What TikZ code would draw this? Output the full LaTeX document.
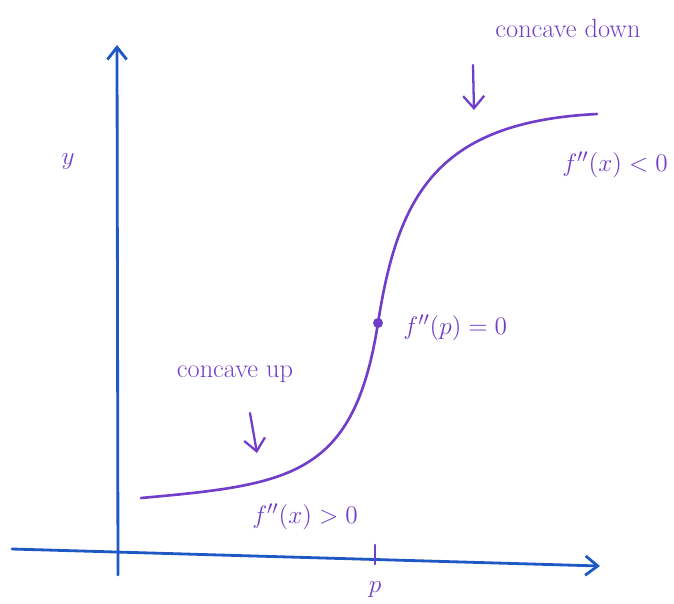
\documentclass[tikz,border=0pt]{standalone}
\usetikzlibrary{arrows.meta}
\definecolor{pen}{RGB}{112,62,200}
\definecolor{axisblue}{RGB}{30,88,196}
\begin{document}
\begin{tikzpicture}[x=0.02cm,y=-0.02cm,
  axisline/.style={draw=axisblue,line width=1.6pt,line cap=round,-{Straight Barb[length=7pt,width=11pt,line width=1.6pt]}},
  curveline/.style={draw=pen,line width=1.5pt,line cap=round},
  note/.style={text=pen,font=\fontsize{15}{17}\selectfont,inner sep=0pt},
  pointer/.style={draw=pen,line width=1.3pt,line cap=round,-{Straight Barb[length=7pt,width=12pt,line width=1.3pt]}}]
\useasboundingbox (0,0) rectangle (674,603);
% axes
\coordinate (xs) at (12,549);
\coordinate (xe) at (600,566);
\coordinate (ys) at (118,575);
\coordinate (ye) at (117,45);
\draw[axisline] (xs) -- (xe);
\draw[axisline] (ys) -- (ye);
% tick at p
\coordinate (t1) at (375,545);
\coordinate (t2) at (375,564);
\draw[draw=pen,line width=1.5pt,line cap=round] (t1) -- (t2);
\node[note] (plab) at (375,590) {$p$};
\node[note] (ylab) at (68,162) {$y$};
% curve
\coordinate (c0) at (141,498);
\coordinate (ip) at (378,323);
\coordinate (c1) at (597,114);
\draw[curveline] (c0) .. controls (291,484.5) and (354,476.6) .. (ip)
  .. controls (398,195) and (437,122) .. (c1);
\fill[pen] (ip) circle (5);
% labels
\node[note,anchor=west] (fp) at (403,328) {$f''(p) = 0$};
\node[note] (cu) at (235,374) {concave up};
\node[note] (fgt) at (305,517) {$f''(x) > 0$};
\node[note] (cd) at (568,28) {concave down};
\node[note] (flt) at (615,165) {$f''(x) < 0$};
% pointers
\coordinate (a1s) at (250,413);
\coordinate (a1e) at (257,453);
\coordinate (a2s) at (473,65);
\coordinate (a2e) at (474,110);
\draw[pointer] (a1s) -- (a1e);
\draw[pointer] (a2s) -- (a2e);
\end{tikzpicture}
\end{document}
